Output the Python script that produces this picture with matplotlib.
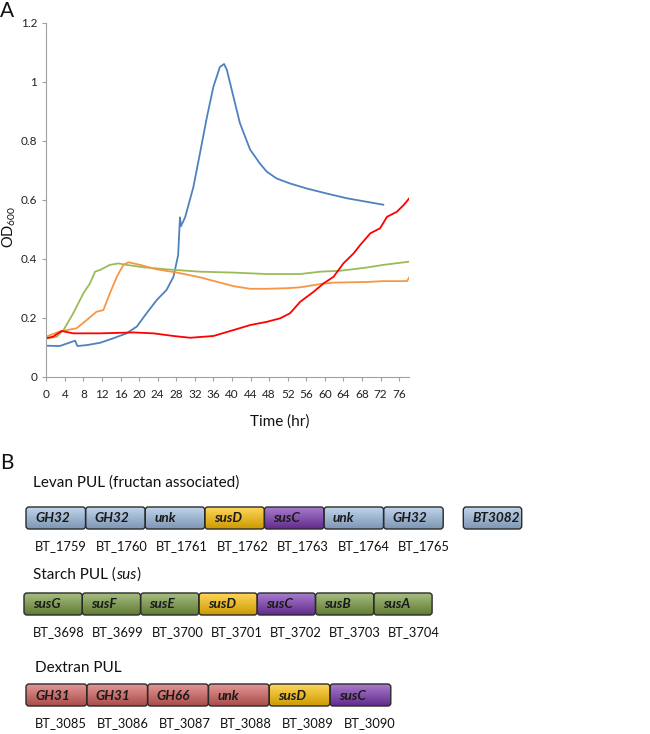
import numpy as np
import matplotlib
matplotlib.use("Agg")
import matplotlib.pyplot as plt
from matplotlib.patches import FancyBboxPatch
from matplotlib.colors import to_rgb

plt.rcParams['font.family'] = ['Lato', 'DejaVu Sans']
plt.rcParams['mathtext.default'] = 'regular'

# ---- Panel A: growth curves (time in hr, OD600) ----
blue_t = [0, 2.9, 6.2, 6.7, 8.7, 11.6, 14.4, 17.3, 19.5, 21.6, 23.8, 25.9, 27.4, 28.4,
          28.8, 29.0, 29.9, 31.7, 33.1, 34.6, 36.0, 37.4, 38.3, 38.9, 40.3, 41.7, 43.9,
          46.0, 47.5, 49.6, 52.5, 56.1, 60.4, 64.7, 69.0, 72.6]
blue_od = [0.105, 0.104, 0.122, 0.104, 0.107, 0.115, 0.13, 0.147, 0.17, 0.215, 0.26, 0.294,
           0.339, 0.412, 0.54, 0.51, 0.54, 0.644, 0.757, 0.88, 0.983, 1.05, 1.06, 1.04,
           0.95, 0.86, 0.77, 0.723, 0.695, 0.672, 0.655, 0.638, 0.621, 0.605, 0.593, 0.583]

green_t = [0, 2.2, 3.7, 5.8, 8.0, 9.4, 10.5, 11.6, 13.7, 15.5, 17.3, 20.9, 25.9, 33.1,
           40.3, 47.5, 54.7, 59.0, 63.3, 69.0, 72.6, 78.2]
green_od = [0.13, 0.135, 0.158, 0.215, 0.283, 0.316, 0.356, 0.362, 0.379, 0.384, 0.379,
            0.371, 0.364, 0.356, 0.353, 0.348, 0.348, 0.356, 0.359, 0.37, 0.379, 0.39]

orange_t = [0, 2.9, 4.4, 6.5, 8.7, 10.8, 12.3, 13.7, 15.2, 16.6, 17.7, 20.2, 23.8, 28.1,
            33.1, 36.7, 40.3, 43.9, 47.5, 51.8, 54.7, 59.0, 61.9, 69.0, 72.6, 77.7, 78.2]
orange_od = [0.136, 0.153, 0.158, 0.164, 0.192, 0.22, 0.226, 0.283, 0.339, 0.379, 0.388,
             0.379, 0.364, 0.353, 0.337, 0.322, 0.307, 0.298, 0.298, 0.3, 0.303, 0.314,
             0.319, 0.321, 0.324, 0.324, 0.337]

red_t = [0, 1.5, 3.3, 5.8, 11.6, 18.8, 23.1, 27.4, 31.0, 36.0, 40.3, 43.9, 47.5, 50.4,
         52.5, 54.7, 57.6, 59.7, 61.9, 64.0, 66.2, 67.6, 69.8, 71.9, 73.4, 75.5, 77.0, 78.2]
red_od = [0.13, 0.136, 0.155, 0.147, 0.147, 0.15, 0.147, 0.138, 0.132, 0.138, 0.158, 0.175,
          0.186, 0.198, 0.215, 0.254, 0.288, 0.316, 0.339, 0.384, 0.418, 0.446, 0.486,
          0.503, 0.542, 0.559, 0.582, 0.605]

x_ticks = list(range(0, 77, 4))
y_ticks = [0, 0.2, 0.4, 0.6, 0.8, 1, 1.2]
y_ticklabels = ["0", "0.2", "0.4", "0.6", "0.8", "1", "1.2"]

# ---- Panel B: gene clusters ----
levan_genes = ["GH32", "GH32", "unk", "susD", "susC", "unk", "GH32"]
levan_ids = ["BT_1759", "BT_1760", "BT_1761", "BT_1762", "BT_1763", "BT_1764", "BT_1765"]
starch_genes = ["susG", "susF", "susE", "susD", "susC", "susB", "susA"]
starch_ids = ["BT_3698", "BT_3699", "BT_3700", "BT_3701", "BT_3702", "BT_3703", "BT_3704"]
dextran_genes = ["GH31", "GH31", "GH66", "unk", "susD", "susC"]
dextran_ids = ["BT_3085", "BT_3086", "BT_3087", "BT_3088", "BT_3089", "BT_3090"]

W, H = 650, 734
fig = plt.figure(figsize=(W / 100, H / 100), dpi=100)

# plot area in pixels
L, R, T, B = 46.3, 409.3, 22.7, 376.7
ax = fig.add_axes([L / W, (H - B) / H, (R - L) / W, (B - T) / H])
lw = 1.3
ax.plot(blue_t, blue_od, color="#4F81BD", lw=lw)
ax.plot(green_t, green_od, color="#9BBB59", lw=lw)
ax.plot(orange_t, orange_od, color="#F79646", lw=lw)
ax.plot(red_t, red_od, color="#FF0000", lw=lw)
ax.set_xlim(0, 78.2)
ax.set_ylim(0, 1.2)
ax.set_xticks(x_ticks)
ax.set_yticks(y_ticks)
ax.set_yticklabels(y_ticklabels)
for s in ["top", "right"]:
    ax.spines[s].set_visible(False)
for s in ["left", "bottom"]:
    ax.spines[s].set_color("#a0a0a0")
    ax.spines[s].set_linewidth(0.8)
ax.tick_params(colors="#a0a0a0", labelcolor="#222222", labelsize=8.5, length=3, width=0.8)
ax.tick_params(axis="x", pad=6)

# overlay axes in pixel coordinates for text and gene boxes
ov = fig.add_axes([0, 0, 1, 1], zorder=5)
ov.set_xlim(0, W)
ov.set_ylim(H, 0)
ov.axis("off")

ov.text(0, 1, "A", fontsize=15, va="top", ha="left", color="#111111")
ov.text(280, 422, "Time (hr)", fontsize=11, ha="center", va="center", color="#111111")
ov.text(9, 227, "OD$_{600}$", fontsize=10.5, rotation=90, ha="center", va="center",
        color="#111111")
ov.text(0, 463, "B", fontsize=15, va="center", ha="left", color="#111111")

BLUE_BOX, GREEN_BOX, RED_BOX = "#9DBCE0", "#779A3E", "#D45F5C"
SUSD, SUSC = "#FFC000", "#7A35B0"


def draw_box(x, y, w, h, col, label):
    base = np.array(to_rgb(col))
    light = base + (1 - base) * 0.35
    dark = base * 0.8
    grad = np.linspace(0, 1, 50)[:, None, None]
    img = light * (1 - grad) + dark * grad
    img = np.repeat(img, 2, axis=1)
    im = ov.imshow(img, extent=(x, x + w, y + h, y), aspect="auto", zorder=2,
                   interpolation="bilinear")
    p = FancyBboxPatch((x, y), w, h, boxstyle="round,pad=0,rounding_size=3",
                       facecolor="none", edgecolor="#2a2a2a", lw=1.0, zorder=3)
    ov.add_patch(p)
    im.set_clip_path(p)
    ov.text(x + 9, y + h / 2 + 0.5, label, fontsize=9.8, fontweight="bold", fontstyle="italic",
            ha="left", va="center", color="#1a1a1a", zorder=4)


def fill_for(g, default):
    if g == "susD":
        return SUSD
    if g == "susC":
        return SUSC
    return default


def draw_row(genes, ids, default, x0, pitch, y_top, label_y):
    for i, (g, gid) in enumerate(zip(genes, ids)):
        x = x0 + i * pitch
        draw_box(x, y_top, pitch, 22, fill_for(g, default), g)
        ov.text(x + 9 + i * 0.9, label_y, gid, fontsize=9.3, ha="left", va="center",
                color="#111111")


TS = 11
ov.text(32.7, 483, "Levan PUL (fructan associated)", fontsize=TS, ha="left", va="center",
        color="#111111")
draw_row(levan_genes, levan_ids, BLUE_BOX, 26, 59.6, 507, 546)
draw_box(463.3, 507, 58.4, 22, BLUE_BOX, "BT3082")

# "Starch PUL (sus)" with italic "sus"
t1 = ov.text(32.7, 575, "Starch PUL (", fontsize=TS, ha="left", va="center", color="#111111")
fig.canvas.draw()
inv = ov.transData.inverted()
xe = inv.transform((t1.get_window_extent().x1, 0))[0]
t2 = ov.text(xe, 575, "sus", fontsize=TS, fontstyle="italic", ha="left", va="center",
             color="#111111")
fig.canvas.draw()
xe2 = inv.transform((t2.get_window_extent().x1, 0))[0]
ov.text(xe2 + 0.5, 575, ")", fontsize=TS, ha="left", va="center", color="#111111")
draw_row(starch_genes, starch_ids, GREEN_BOX, 24, 58.3, 593, 632)

ov.text(35, 668, "Dextran PUL", fontsize=TS, ha="left", va="center", color="#111111")
draw_row(dextran_genes, dextran_ids, RED_BOX, 26, 60.8, 684, 723)

fig.savefig("out.png", dpi=100)
